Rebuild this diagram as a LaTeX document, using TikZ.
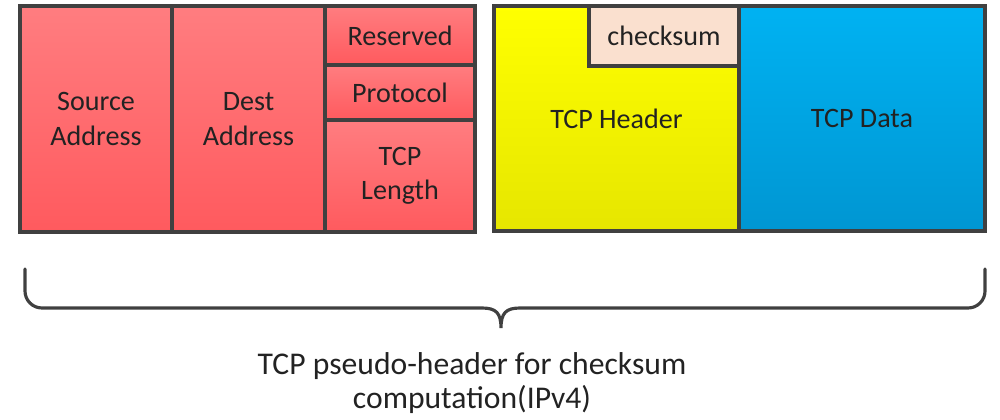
\documentclass[tikz,border=0pt]{standalone}
\usepackage{fontspec}
\setmainfont{Carlito}
\usetikzlibrary{shadows}
\definecolor{edge}{HTML}{404040}
\definecolor{redtop}{HTML}{FF7D80}
\definecolor{redbot}{HTML}{FF5A5E}
\definecolor{yeltop}{HTML}{FFFF00}
\definecolor{yelbot}{HTML}{E6E600}
\definecolor{bluetop}{HTML}{00B2F2}
\definecolor{bluebot}{HTML}{0096D2}
\definecolor{peach}{HTML}{FAE0CF}
\definecolor{ink}{HTML}{222222}
\tikzset{
  field/.style={draw=edge, line width=2pt, inner sep=0pt, text=ink,
    font=\fontsize{16}{19.5}\selectfont, align=center},
  sz/.style 2 args={minimum width=#1*0.02cm, minimum height=#2*0.02cm},
  redfield/.style={field, top color=redtop, bottom color=redbot},
  shade/.style={drop shadow={shadow xshift=1.2pt, shadow yshift=-1.2pt, opacity=0.25}},
  bracepath/.style={draw=edge, line width=1.8pt, line cap=round}
}
\begin{document}
\begin{tikzpicture}[x=0.02cm, y=-0.02cm]
\useasboundingbox (0,0) rectangle (1000,419);
% pseudo-header fields
\node[redfield, shade, sz={152}{226}] (src) at (96,119) {Source\\Address};
\node[redfield, sz={153}{226}] (dst) at (248.5,119) {Dest\\Address};
\node[redfield, sz={150}{59}] (res) at (400,35.5) {Reserved};
\node[redfield, sz={150}{55}] (proto) at (400,92.5) {Protocol};
\node[redfield, sz={150}{112}] (len) at (400,176) {TCP\\Length};
% TCP segment
\node[field, shade, top color=yeltop, bottom color=yelbot, sz={245}{225}] (hdr) at (616.5,118.5) {TCP Header};
\node[field, top color=bluetop, bottom color=bluebot, sz={246}{225}] (data) at (862,118.5) {TCP Data};
\node[field, fill=peach, sz={150}{60}] (cks) at (664,36) {checksum};
% brace under everything
\coordinate (bl) at (25,269);
\coordinate (br) at (985,269);
\coordinate (tip) at (501,328);
\draw[bracepath] (bl) -- (25,291) .. controls (25,300.4) and (32.6,308) .. (42,308)
  -- (482,308) .. controls (496,308) and (501,313) .. (tip)
  .. controls (501,313) and (506,308) .. (520,308)
  -- (968,308) .. controls (977.4,308) and (985,300.4) .. (985,291) -- (br);
\node[font=\fontsize{18}{19.8}\selectfont, text=ink, align=center] (cap) at (472,383)
  {TCP pseudo-header for checksum\\computation(IPv4)};
\end{tikzpicture}
\end{document}
